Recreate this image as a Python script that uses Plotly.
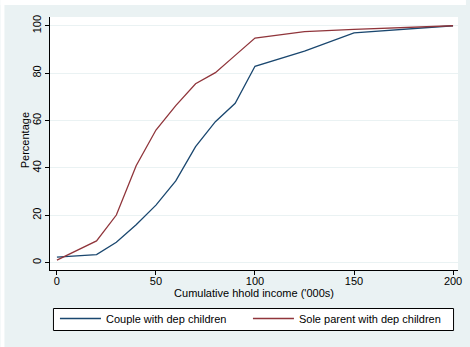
import plotly.graph_objects as go

income = [0, 20, 30, 40, 50, 60, 70, 80, 90, 100, 125, 150, 200]
couple = [2.3, 3.4, 8.6, 16.0, 24.3, 34.5, 49.0, 59.5, 67.3, 82.9, 89.3, 97.0, 100]
sole = [1.1, 9.2, 20.1, 40.9, 56.0, 66.3, 75.5, 80.2, 87.5, 94.8, 97.5, 98.5, 100]

x_ticks = [0, 50, 100, 150, 200]
y_ticks = [0, 20, 40, 60, 80, 100]

BG = "#EAF2F3"
NAVY = "#1A476F"
MAROON = "#90353B"
FONT = "Liberation Sans, Arial, sans-serif"

W, H = 470, 347
ML, MR, MT, MB = 50, 8, 17, 77
PW = W - ML - MR
PH = H - MT - MB

def px(x):
    return (x - ML) / PW

def py(y):
    return (H - MB - y) / PH

fig = go.Figure()
fig.add_trace(go.Scatter(x=income, y=couple, mode="lines", name="Couple with dep children",
                         line=dict(color=NAVY, width=1.3)))
fig.add_trace(go.Scatter(x=income, y=sole, mode="lines", name="Sole parent with dep children",
                         line=dict(color=MAROON, width=1.3)))

fig.update_layout(
    width=W, height=H,
    margin=dict(l=ML, r=MR, t=MT, b=MB, pad=0),
    paper_bgcolor=BG, plot_bgcolor="white",
    font=dict(family=FONT, size=11, color="#000"),
    showlegend=True,
    legend=dict(orientation="h", x=px(55), xanchor="left", y=py(304), yanchor="top",
                bgcolor="rgba(0,0,0,0)", borderwidth=0,
                itemwidth=41, entrywidth=137, entrywidthmode="pixels",
                font=dict(family=FONT, size=11, color="#000")),
    shapes=[
        dict(type="rect", xref="paper", yref="paper", x0=px(0), x1=px(W), y0=py(5), y1=py(0),
             fillcolor="white", line=dict(width=0), layer="above"),
        dict(type="rect", xref="paper", yref="paper", x0=px(0), x1=px(4), y0=py(H), y1=py(0),
             fillcolor="white", line=dict(width=0), layer="above"),
        dict(type="rect", xref="paper", yref="paper", x0=px(53.5), x1=px(457.5), y0=py(330.5), y1=py(308.5),
             fillcolor="white", line=dict(width=1, color="#000"), layer="above"),
    ],
    annotations=[
        dict(text="Percentage", xref="paper", yref="paper", x=px(25), y=py(140),
             xanchor="center", yanchor="middle", textangle=-90, showarrow=False,
             font=dict(family=FONT, size=11, color="#000")),
    ],
)

fig.update_xaxes(
    range=[-3.5, 202.5], tickvals=x_ticks, ticktext=[str(v) for v in x_ticks],
    showgrid=False, zeroline=False,
    showline=True, linecolor="#000", linewidth=1,
    ticks="outside", ticklen=4, tickcolor="#000", tickwidth=1,
    tickfont=dict(size=11), ticklabelstandoff=-3,
    title=dict(text="Cumulative hhold income ('000s)", font=dict(size=11), standoff=2),
)
fig.update_yaxes(
    range=[-3.1, 103.7], tickvals=y_ticks, ticktext=[str(v) for v in y_ticks],
    showgrid=True, gridcolor=BG, gridwidth=1, zeroline=False,
    showline=True, linecolor="#000", linewidth=1,
    ticks="outside", ticklen=4, tickcolor="#000", tickwidth=1,
    tickangle=-90, tickfont=dict(size=11),
)

fig.write_html("out.html", config={"displayModeBar": False},
               post_script="document.body.style.margin='0';document.body.style.overflow='hidden';")
